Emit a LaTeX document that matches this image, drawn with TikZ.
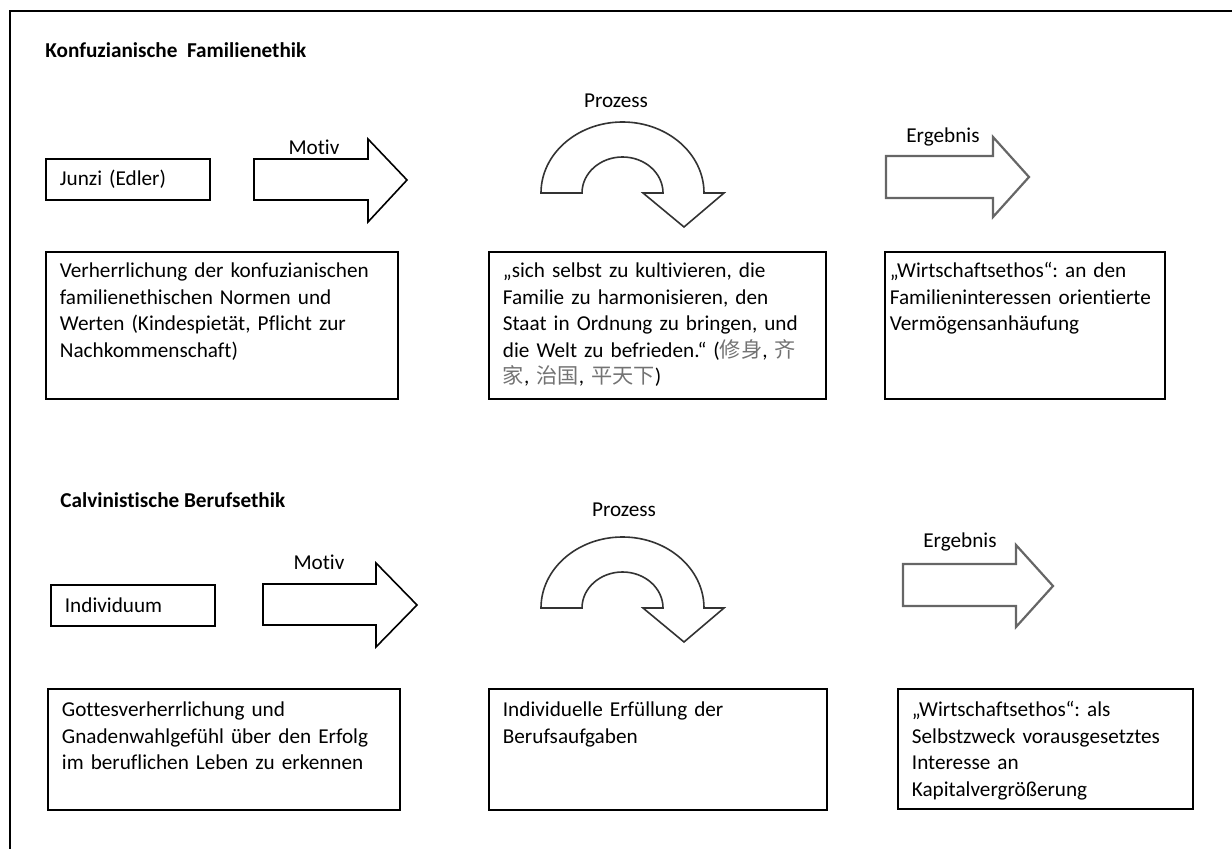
\documentclass[tikz,border=0pt]{standalone}
\usepackage{fontspec}
\setmainfont{Carlito}[Ligatures=NoCommon]
\newfontfamily\cjk{Noto Sans CJK SC}
\newcommand{\hanzi}[1]{{\cjk\textcolor{black!55}{#1}}}
\usetikzlibrary{positioning}
\frenchspacing

\begin{document}
\begin{tikzpicture}[x=0.5pt,y=-0.5pt]
		\tikzstyle{frame}=[line width=1pt]
		\tikzstyle{heading}=[font=\fontsize{10.6}{13.25}\selectfont\bfseries,anchor=base west,inner sep=0pt]
		\tikzstyle{caption}=[font=\fontsize{10.6}{13.25}\selectfont,anchor=base,inner sep=0pt]
		\tikzstyle{namebox}=[draw,line width=0.9pt,anchor=north west,minimum height=20.5pt,text width=68pt,inner xsep=7pt,align=left,font=\fontsize{10.6}{13.25}\selectfont]
		\tikzstyle{textbox}=[draw,line width=0.9pt,anchor=north west,inner xsep=7pt,inner ysep=3pt,align=left,font=\fontsize{10.6}{13.25}\selectfont]
		\tikzstyle{toprow}=[text height=10pt,text depth=57.5pt]
		\tikzstyle{bottomrow}=[text height=11pt,text depth=43.5pt]
		\tikzstyle{motive}=[line width=0.8pt]
		\tikzstyle{process}=[line width=0.8pt,draw=black!80]
		\tikzstyle{result}=[line width=1.1pt,draw=black!60]

		\useasboundingbox (0,0) rectangle (1232,849);
		\draw [frame] (10,849) -- (10,11) -- (1232,11);

		% Premiere ligne : ethique familiale
		\node[heading] (title1) at (45,58) {Konfuzianische\ \ Familienethik};

		\node[namebox] (junzi) at (45,158) {Junzi (Edler)};

		\node[caption] (motiv1) at (314,155) {Motiv};
		\draw [motive] (254,159) -- (368,159) -- (368,139) -- (407,180) -- (368,222) -- (368,200) -- (254,200) -- cycle;

		\node[caption] (prozess1) at (616,108) {Prozess};
		\draw [process] (541,193) arc[start angle=180,end angle=360,x radius=81.5,y radius=71]
			-- (724,193) -- (684,227) -- (643,193) -- (663,193)
			arc[start angle=0,end angle=-180,x radius=40.5,y radius=36] -- cycle;

		\node[caption] (ergebnis1) at (943,143) {Ergebnis};
		\draw [result] (886,156) -- (993,156) -- (993,137) -- (1029,177) -- (993,217) -- (993,198) -- (886,198) -- cycle;

		\node[textbox,toprow,text width=162pt] (norms) at (45,251)
			{Verherrlichung der konfuzianischen\\familienethischen Normen und\\Werten (Kindespietät, Pflicht zur\\Nachkommenschaft)};
		\node[textbox,toprow,text width=154.5pt] (cultivate) at (488,251)
			{„sich selbst zu kultivieren, die\\Familie zu harmonisieren, den\\Staat in Ordnung zu bringen, und\\die Welt zu befrieden.“ (\hanzi{修身}, \hanzi{齐}\\\hanzi{家}, \hanzi{治国}, \hanzi{平天下})};
		\node[textbox,toprow,inner xsep=2.5pt,text width=135pt] (ethos1) at (884,251)
			{„Wirtschaftsethos“: an den\\Familieninteressen orientierte\\Vermögensanhäufung};

		% Deuxieme ligne : ethique professionnelle
		\node[heading] (title2) at (60,508) {Calvinistische Berufsethik};

		\node[namebox] (individuum) at (50,584) {Individuum};

		\node[caption] (motiv2) at (319,570) {Motiv};
		\draw [motive] (263,584) -- (376,584) -- (376,563) -- (417,605) -- (376,647) -- (376,625) -- (263,625) -- cycle;

		\node[caption] (prozess2) at (624,517) {Prozess};
		\draw [process] (541,608) arc[start angle=180,end angle=360,x radius=81.5,y radius=71]
			-- (724,608) -- (684,642) -- (643,608) -- (663,608)
			arc[start angle=0,end angle=-180,x radius=40.5,y radius=36] -- cycle;

		\node[caption] (ergebnis2) at (960,548) {Ergebnis};
		\draw [result] (903,564) -- (1016,564) -- (1016,545) -- (1053,586) -- (1016,627) -- (1016,606) -- (903,606) -- cycle;

		\node[textbox,bottomrow,text width=162pt] (glory) at (47,688)
			{Gottesverherrlichung und\\Gnadenwahlgefühl über den Erfolg\\im beruflichen Leben zu erkennen};
		\node[textbox,bottomrow,text width=155pt] (duty) at (488,688)
			{Individuelle Erfüllung der\\Berufsaufgaben};
		\node[textbox,bottomrow,text width=133.5pt,text depth=43pt] (ethos2) at (897,688)
			{„Wirtschaftsethos“: als\\Selbstzweck vorausgesetztes\\Interesse an\\Kapitalvergrößerung};
\end{tikzpicture}
\end{document}
